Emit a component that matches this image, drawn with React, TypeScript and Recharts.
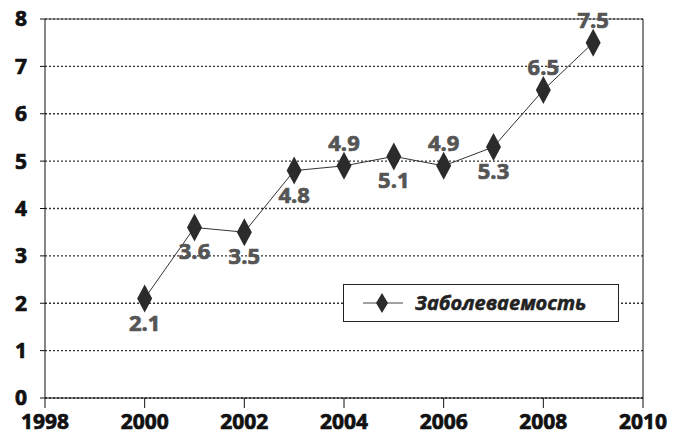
import React from "react";
import {
  LineChart,
  Line,
  XAxis,
  YAxis,
  CartesianGrid,
  ReferenceLine,
  LabelList,
} from "recharts";

// Incidence by year
const years = [2000, 2001, 2002, 2003, 2004, 2005, 2006, 2007, 2008, 2009];
const incidence = [2.1, 3.6, 3.5, 4.8, 4.9, 5.1, 4.9, 5.3, 6.5, 7.5];
// whether each value label sits above or below its marker
const labelAbove = [false, false, false, false, true, false, true, false, true, true];

const xTicks = [1998, 2000, 2002, 2004, 2006, 2008, 2010];
const yTicks = [0, 1, 2, 3, 4, 5, 6, 7, 8];
const seriesName = "Заболеваемость";

const data = years.map((year, i) => ({ year, value: incidence[i], above: labelAbove[i] }));

const FONT = "'Open Sans', 'DejaVu Sans', sans-serif";

const Diamond = (props: any) => {
  const { cx, cy } = props;
  if (cx == null || cy == null) return null;
  const w = 7.5;
  const h = 14;
  return (
    <polygon
      points={`${cx},${cy - h} ${cx + w},${cy} ${cx},${cy + h} ${cx - w},${cy}`}
      fill="#2b2b2b"
      stroke="none"
    />
  );
};

const ValueLabel = (props: any) => {
  const { x, y, value, index } = props;
  const above = data[index].above;
  return (
    <text
      x={x}
      y={above ? y - 15 : y + 32}
      textAnchor="middle"
      fill="#555"
      stroke="#555"
      strokeWidth={0.7}
      fontFamily={FONT}
      fontWeight={700}
      fontSize={22}
    >
      {Number(value).toFixed(1)}
    </text>
  );
};

const LegendBox = () => (
  <svg width={276} height={38} style={{ display: "block" }}>
    <rect x={0.5} y={0.5} width={275} height={37} fill="#fff" stroke="#222" strokeWidth={1} />
    <line x1={20} y1={19} x2={60} y2={19} stroke="#444" strokeWidth={1} />
    <polygon points="39,9 45,19 39,29 33,19" fill="#2b2b2b" />
    <text
      x={72}
      y={26}
      fontFamily={FONT}
      fontWeight={700}
      fontStyle="italic"
      fontSize={20}
      fill="#222"
      stroke="#222"
      strokeWidth={0.5}
    >
      {seriesName}
    </text>
  </svg>
);

const tickStyle = {
  fill: "#111",
  stroke: "#111",
  strokeWidth: 0.7,
  fontFamily: FONT,
  fontWeight: 700,
  fontSize: 21,
};

export default function App() {
  return (
    <div style={{ position: "absolute", left: 0, top: 0, width: 687, height: 438, background: "#fff" }}>
      <LineChart
        width={687}
        height={438}
        data={data}
        margin={{ top: 19, right: 44, bottom: 0, left: 0 }}
      >
        <CartesianGrid
          vertical={false}
          stroke="#333"
          strokeDasharray="2 2"
          strokeWidth={1.3}
        />
        <XAxis
          dataKey="year"
          type="number"
          domain={[1998, 2010]}
          ticks={xTicks}
          interval={0}
          height={40}
          tickSize={10}
          tickMargin={6}
          stroke="#111"
          tick={tickStyle}
        />
        <YAxis
          type="number"
          domain={[0, 8]}
          ticks={yTicks}
          interval={0}
          width={45}
          tickSize={5}
          tickMargin={13}
          stroke="#111"
          tick={tickStyle}
        />
        <ReferenceLine y={8} stroke="#555" strokeWidth={1.2} />
        <ReferenceLine x={2010} stroke="#111" strokeWidth={1} />
        <Line
          dataKey="value"
          name={seriesName}
          stroke="#333"
          strokeWidth={1}
          dot={<Diamond />}
          activeDot={false}
          isAnimationActive={false}
        >
          <LabelList dataKey="value" content={<ValueLabel />} />
        </Line>
      </LineChart>
      <div style={{ position: "absolute", left: 343, top: 284 }}>
        <LegendBox />
      </div>
    </div>
  );
}
